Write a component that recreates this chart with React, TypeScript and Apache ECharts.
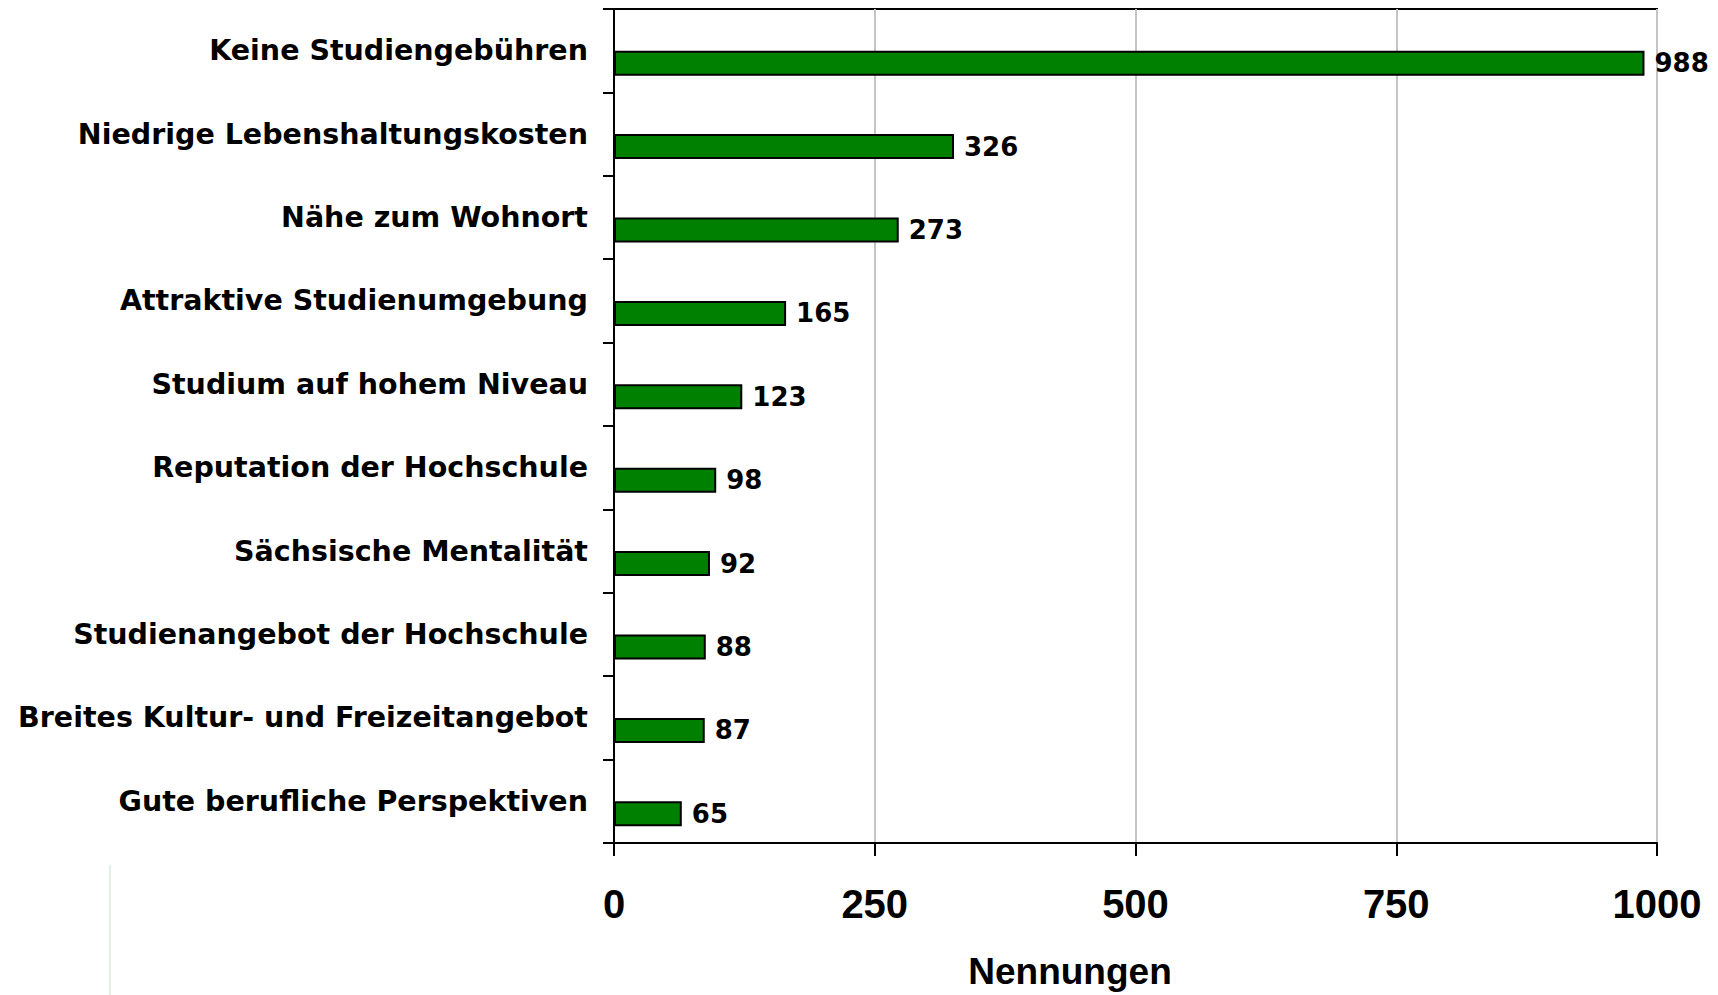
import React, { useEffect, useRef } from "react";
import * as echarts from "echarts";

const categories = [
  "Keine Studiengebühren",
  "Niedrige Lebenshaltungskosten",
  "Nähe zum Wohnort",
  "Attraktive Studienumgebung",
  "Studium auf hohem Niveau",
  "Reputation der Hochschule",
  "Sächsische Mentalität",
  "Studienangebot der Hochschule",
  "Breites Kultur- und Freizeitangebot",
  "Gute berufliche Perspektiven",
];
const values = [988, 326, 273, 165, 123, 98, 92, 88, 87, 65];
const spacer = [null, null, null, null, null, null, null, null, null, null];
const xTicks = { min: 0, max: 1000, interval: 250 };
const axisName = "Nennungen";

const FONT = '"Liberation Sans", Arial, sans-serif';
const WIDE = '"DejaVu Sans", "Liberation Sans", Arial, sans-serif';

export default function App() {
  const ref = useRef<HTMLDivElement>(null);
  useEffect(() => {
    if (!ref.current) return;
    const chart = echarts.init(ref.current, null, { renderer: "svg" });
    chart.setOption({
      animation: false,
      backgroundColor: "#ffffff",
      textStyle: { fontFamily: FONT },
      graphic: [
        {
          type: "line",
          shape: { x1: 110, y1: 865, x2: 110, y2: 995 },
          style: { stroke: "#e2f1e2", lineWidth: 2 },
          silent: true,
          z: -10,
        },
        {
          type: "line",
          shape: { x1: 0, y1: 916, x2: 320, y2: 916 },
          style: {
            lineWidth: 3,
            stroke: new echarts.graphic.LinearGradient(0, 0, 1, 0, [
              { offset: 0, color: "#cfe8cf" },
              { offset: 1, color: "rgba(207,232,207,0)" },
            ]),
          },
          silent: true,
          z: -10,
        },
        {
          type: "line",
          shape: { x1: 1549, y1: 0, x2: 1549, y2: 330 },
          style: {
            lineWidth: 2,
            stroke: new echarts.graphic.LinearGradient(0, 0, 0, 1, [
              { offset: 0, color: "#d6ecd6" },
              { offset: 1, color: "rgba(220,239,220,0)" },
            ]),
          },
          silent: true,
          z: -10,
        },
        {
          type: "line",
          shape: { x1: 1674, y1: 0, x2: 1674, y2: 995 },
          style: {
            lineWidth: 2,
            stroke: new echarts.graphic.LinearGradient(0, 0, 0, 1, [
              { offset: 0, color: "#a6d4a6" },
              { offset: 0.6, color: "rgba(190,225,190,0.5)" },
              { offset: 1, color: "rgba(210,235,210,0.7)" },
            ]),
          },
          silent: true,
          z: -10,
        },
      ],
      grid: {
        left: 614,
        top: 9,
        width: 1043,
        height: 837,
        show: true,
        borderColor: "#000000",
        borderWidth: 2,
        containLabel: false,
      },
      xAxis: {
        type: "value",
        min: xTicks.min,
        max: xTicks.max,
        interval: xTicks.interval,
        name: axisName,
        nameLocation: "middle",
        nameGap: 110,
        nameTextStyle: {
          fontSize: 37,
          fontWeight: "bold",
          color: "#000000",
          fontFamily: FONT,
          padding: [0, 131, 0, 0],
        },
        axisLine: { show: true, lineStyle: { color: "#000000", width: 2 } },
        axisTick: {
          show: true,
          length: 13,
          lineStyle: { color: "#000000", width: 2 },
        },
        axisLabel: {
          fontSize: 40,
          fontWeight: "bold",
          color: "#000000",
          fontFamily: FONT,
          margin: 41,
          formatter: (v: number) => String(v),
        },
        splitLine: { show: true, lineStyle: { color: "#c4c4c4", width: 2 } },
      },
      yAxis: {
        type: "category",
        data: categories,
        inverse: true,
        axisLine: { show: true, lineStyle: { color: "#000000", width: 2 } },
        axisTick: {
          show: true,
          length: 11,
          interval: 0,
          lineStyle: { color: "#000000", width: 2 },
        },
        axisLabel: {
          fontSize: 28.5,
          fontWeight: "bold",
          color: "#000000",
          fontFamily: WIDE,
          margin: 26,
          interval: 0,
        },
        splitLine: { show: false },
      },
      series: [
        {
          type: "bar",
          name: "spacer",
          data: spacer,
          barWidth: 25,
          barGap: "0%",
          silent: true,
        },
        {
          type: "bar",
          name: axisName,
          data: values,
          barWidth: 25,
          barGap: "0%",
          itemStyle: { color: "#008000", borderColor: "#000000", borderWidth: 2 },
          label: {
            show: true,
            position: "right",
            distance: 10,
            fontSize: 26,
            fontWeight: "bold",
            color: "#000000",
            fontFamily: WIDE,
          },
        },
      ],
    });
    return () => chart.dispose();
  }, []);
  return (
    <div
      ref={ref}
      style={{ position: "fixed", left: 0, top: 0, width: 1718, height: 995 }}
    />
  );
}
